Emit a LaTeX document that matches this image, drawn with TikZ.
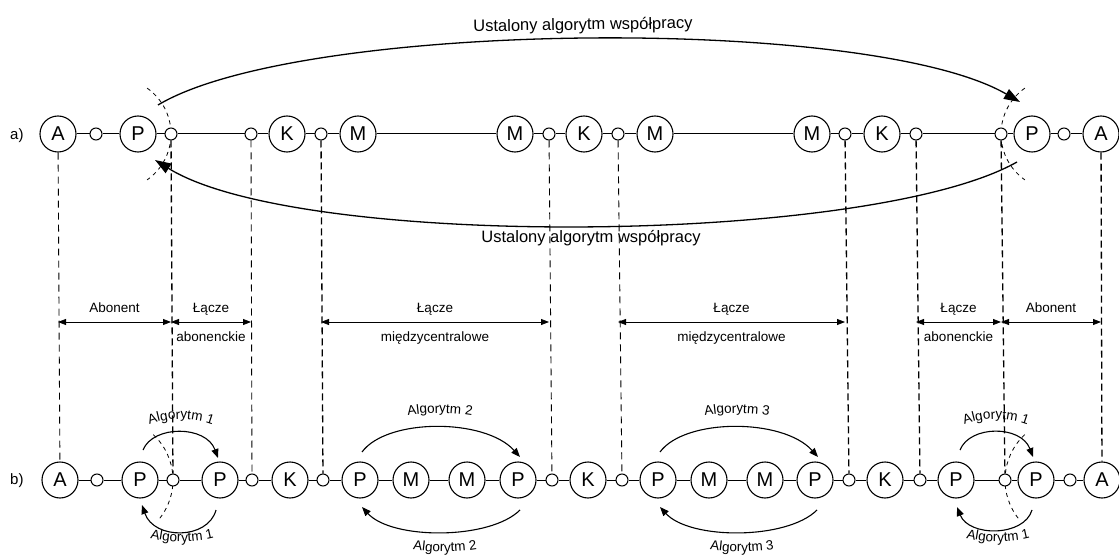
\documentclass[tikz,border=0pt]{standalone}
\usepackage{fontspec}
\setmainfont{Liberation Sans}
\usetikzlibrary{arrows.meta,calc,decorations.text}
\pgfdeclarelayer{paper}
\pgfdeclarelayer{back}
\pgfsetlayers{paper,back,main}
\newcommand\algfont{\fontsize{13.5}{14}\selectfont}

\begin{document}
\begin{tikzpicture}[x=1pt,y=1pt,
  every node/.style={inner sep=0pt},
  station/.style={circle,draw,fill=white,line width=1.1pt,minimum size=36pt,font=\fontsize{20}{20}\selectfont},
  port/.style={circle,draw,fill=white,line width=1pt,minimum size=12pt},
  chainline/.style={line width=1pt},
  lbl/.style={font=\algfont},
  hdr/.style={font=\fontsize{16.5}{17}\selectfont},
  rowtag/.style={font=\fontsize{15}{15}\selectfont,anchor=base west},
  guide/.style={dash pattern=on 7pt off 5pt,line width=0.9pt},
  guidebold/.style={dash pattern=on 7pt off 4pt,line width=1.3pt},
  sweep/.style={dash pattern=on 4pt off 4pt,line width=0.8pt},
  dimarrow/.style={line width=0.8pt,{Triangle[length=8pt,width=6pt]}-{Triangle[length=8pt,width=6pt]}},
  coop/.style={line width=1.3pt,-{Triangle[length=16pt,width=11pt]}},
  algo/.style={line width=1.1pt,-{Triangle[length=9pt,width=7pt]}},
  curvedlabel/.style={decorate,decoration={text along path,text align=center,text={|\algfont|#1}}},
]
\begin{pgfonlayer}{paper}
  \fill[white] (0,0) rectangle (1119,-556);
\end{pgfonlayer}
\useasboundingbox (0,0) rectangle (1119,-556);

% ---------- row a) ----------
\node[rowtag] (taga) at (10,-140) {a)};
\node[station] (aA1) at (58,-134) {A};
\node[port] (ap1) at (96,-134) {};
\node[station] (aP1) at (138,-134) {P};
\node[port] (ap2) at (171,-134) {};
\node[port] (ap3) at (251,-134) {};
\node[station] (aK1) at (287,-134) {K};
\node[port] (ap4) at (321,-134) {};
\node[station] (aM1) at (358,-134) {M};
\node[station] (aM2) at (515,-134) {M};
\node[port] (ap5) at (549,-134) {};
\node[station] (aK2) at (584,-134) {K};
\node[port] (ap6) at (618,-134) {};
\node[station] (aM3) at (655,-134) {M};
\node[station] (aM4) at (812,-134) {M};
\node[port] (ap7) at (845,-134) {};
\node[station] (aK3) at (882,-134) {K};
\node[port] (ap8) at (916,-134) {};
\node[port] (ap9) at (1001,-134) {};
\node[station] (aP2) at (1032,-134) {P};
\node[port] (ap10) at (1064,-134) {};
\node[station] (aA2) at (1101,-134) {A};

\draw[chainline] (aA1) -- (ap1) -- (aP1) -- (ap2) -- (ap3) -- (aK1) -- (ap4) -- (aM1)
  -- (aM2) -- (ap5) -- (aK2) -- (ap6) -- (aM3) -- (aM4) -- (ap7) -- (aK3) -- (ap8)
  -- (ap9) -- (aP2) -- (ap10) -- (aA2);

% ---------- row b) ----------
\node[rowtag] (tagb) at (10,-484) {b)};
\node[station] (bA1) at (60,-480) {A};
\node[port] (bp1) at (97,-480) {};
\node[station] (bP1) at (140,-480) {P};
\node[port] (bp2) at (173,-480) {};
\node[station] (bP2) at (220,-480) {P};
\node[port] (bp3) at (252,-480) {};
\node[station] (bK1) at (290,-480) {K};
\node[port] (bp4) at (323,-480) {};
\node[station] (bP3) at (360,-480) {P};
\node[station] (bM1) at (411,-480) {M};
\node[station] (bM2) at (467,-480) {M};
\node[station] (bP4) at (518,-480) {P};
\node[port] (bp5) at (552,-480) {};
\node[station] (bK2) at (588,-480) {K};
\node[port] (bp6) at (622,-480) {};
\node[station] (bP5) at (658,-480) {P};
\node[station] (bM3) at (709,-480) {M};
\node[station] (bM4) at (765,-480) {M};
\node[station] (bP6) at (815,-480) {P};
\node[port] (bp7) at (849,-480) {};
\node[station] (bK3) at (885,-480) {K};
\node[port] (bp8) at (920,-480) {};
\node[station] (bP7) at (956,-480) {P};
\node[port] (bp9) at (1005,-480) {};
\node[station] (bP8) at (1036,-480) {P};
\node[port] (bp10) at (1070,-480) {};
\node[station] (bA2) at (1102,-480) {A};

\draw[chainline] (bA1) -- (bp1) -- (bP1) -- (bp2) -- (bP2) -- (bp3) -- (bK1) -- (bp4)
  -- (bP3) -- (bM1) -- (bM2) -- (bP4) -- (bp5) -- (bK2) -- (bp6) -- (bP5) -- (bM3)
  -- (bM4) -- (bP6) -- (bp7) -- (bK3) -- (bp8) -- (bP7) -- (bp9) -- (bP8) -- (bp10) -- (bA2);

% ---------- vertical guides between the rows ----------
\draw[guide]     (aA1) -- (bA1);
\draw[guidebold] (ap2) -- (bp2);
\draw[guide]     (ap3) -- (bp3);
\draw[guidebold] (ap4) -- (bp4);
\draw[guide]     (ap5) -- (bp5);
\draw[guide]     (ap6) -- (bp6);
\draw[guidebold] (ap7) -- (bp7);
\draw[guidebold] (ap8) -- (bp8);
\draw[guidebold] (ap9) -- (bp9);
\draw[guidebold] (aA2) -- (bA2);

% ---------- section dimensions ----------
\coordinate (dimy) at (0,-322);
\draw[dimarrow] (aA1 |- dimy) -- (ap2 |- dimy)
  node[lbl,midway,anchor=base,yshift=9.5pt] (d1) {Abonent};
\draw[dimarrow] (ap2 |- dimy) -- (ap3 |- dimy)
  node[lbl,midway,anchor=base,yshift=9.5pt] (d2) {Łącze}
  node[lbl,midway,anchor=base,yshift=-19.5pt] (d2b) {abonenckie};
\draw[dimarrow] (ap4 |- dimy) -- (ap5 |- dimy)
  node[lbl,midway,anchor=base,yshift=9.5pt] (d3) {Łącze}
  node[lbl,midway,anchor=base,yshift=-19.5pt] (d3b) {międzycentralowe};
\draw[dimarrow] (ap6 |- dimy) -- (ap7 |- dimy)
  node[lbl,midway,anchor=base,yshift=9.5pt] (d4) {Łącze}
  node[lbl,midway,anchor=base,yshift=-19.5pt] (d4b) {międzycentralowe};
\draw[dimarrow] (ap8 |- dimy) -- (ap9 |- dimy)
  node[lbl,midway,anchor=base,yshift=9.5pt] (d5) {Łącze}
  node[lbl,midway,anchor=base,yshift=-19.5pt] (d5b) {abonenckie};
\draw[dimarrow] (ap9 |- dimy) -- (aA2 |- dimy)
  node[lbl,midway,anchor=base,yshift=9.5pt] (d6) {Abonent};

% ---------- dashed boundaries of the end-to-end section ----------
\begin{pgfonlayer}{back}
  \draw[sweep] (ap2.center) ++(-56,0) ++(55:56) arc[start angle=55,end angle=-55,radius=56];
  \draw[sweep] (ap9.center) ++(56,0) ++(125:56) arc[start angle=125,end angle=235,radius=56];
  \draw[sweep] (bp2.center) ++(-62,0) ++(47:62) arc[start angle=47,end angle=-40,radius=62];
  \draw[sweep] (bp9.center) ++(62,0) ++(133:62) arc[start angle=133,end angle=220,radius=62];
\end{pgfonlayer}

% ---------- end-to-end cooperation (row a) ----------
\draw[coop] ([shift={(-13,29)}]ap2.center) .. controls +(142,85) and +(-150,87) .. ([shift={(19,32)}]ap9.center);
\draw[coop] ([shift={(16,-28)}]ap9.center) .. controls +(-147,-83) and +(145,-90) .. ([shift={(-16,-26)}]ap2.center);
\node[hdr,anchor=base,rotate=0.8] (coopTop) at (583,-30) {Ustalony algorytm współpracy};
\node[hdr,anchor=base] (coopBot) at (591,-243) {Ustalony algorytm współpracy};

% ---------- link-by-link algorithms (row b) ----------
\draw[algo] ([shift={(3,30)}]bP1.center) .. controls +(10,25) and +(-12,33) .. ([shift={(-2,22)}]bP2.center);
\draw[algo] ([shift={(-4,-30)}]bP2.center) .. controls +(-8,-30) and +(12,-35) .. ([shift={(2,-25)}]bP1.center);
\draw[algo] ([shift={(2,28)}]bP3.center) .. controls +(25,34) and +(-35,39) .. ([shift={(2,23)}]bP4.center);
\draw[algo] ([shift={(2,-30)}]bP4.center) .. controls +(-30,-30) and +(30,-33) .. ([shift={(2,-27)}]bP3.center);
\draw[algo] ([shift={(2,28)}]bP5.center) .. controls +(25,34) and +(-35,39) .. ([shift={(3,23)}]bP6.center);
\draw[algo] ([shift={(2,-30)}]bP6.center) .. controls +(-30,-30) and +(30,-33) .. ([shift={(2,-27)}]bP5.center);
\draw[algo] ([shift={(4,30)}]bP7.center) .. controls +(10,25) and +(-12,32) .. ([shift={(-3,23)}]bP8.center);
\draw[algo] ([shift={(-4,-30)}]bP8.center) .. controls +(-8,-27) and +(12,-30) .. ([shift={(1,-27)}]bP7.center);

\path[curvedlabel={Algorytm 1}] (181,-509) ++(110:90) arc[start angle=110,end angle=70,radius=90];
\path[curvedlabel={Algorytm 1}] (182,-412) ++(245:130) arc[start angle=245,end angle=295,radius=130];
\path[curvedlabel={Algorytm 2}] (440,-613) ++(105:200) arc[start angle=105,end angle=75,radius=200];
\path[curvedlabel={Algorytm 2}] (445,-352) ++(255:200) arc[start angle=255,end angle=285,radius=200];
\path[curvedlabel={Algorytm 3}] (737,-613) ++(105:200) arc[start angle=105,end angle=75,radius=200];
\path[curvedlabel={Algorytm 3}] (742,-352) ++(255:200) arc[start angle=255,end angle=285,radius=200];
\path[curvedlabel={Algorytm 1}] (996,-509) ++(110:90) arc[start angle=110,end angle=70,radius=90];
\path[curvedlabel={Algorytm 1}] (998,-412) ++(245:130) arc[start angle=245,end angle=295,radius=130];
\end{tikzpicture}
\end{document}
